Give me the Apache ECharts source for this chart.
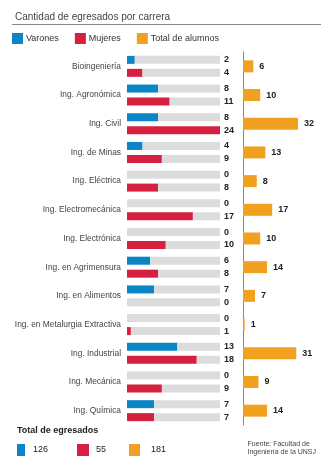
<!DOCTYPE html>
<html>
<head>
<meta charset="utf-8">
<script src="https://cdn.jsdelivr.net/npm/echarts@6/dist/echarts.min.js"></script>
<style>
html,body{margin:0;padding:0;background:#fff;}
#c{width:327px;height:468px;}
</style>
</head>
<body>
<div id="c"></div>
<script>
const categories = ['Bioingeniería','Ing. Agronómica','Ing. Civil','Ing. de Minas','Ing. Eléctrica','Ing. Electromecánica','Ing. Electrónica','Ing. en Agrimensura','Ing. en Alimentos','Ing. en Metalurgia Extractiva','Ing. Industrial','Ing. Mecánica','Ing. Química'];
const varones = [2,8,8,4,0,0,0,6,7,0,13,0,7];
const mujeres = [4,11,24,9,8,17,10,8,0,1,18,9,7];
const totales = [6,10,32,13,8,17,10,14,7,1,31,9,14];
const seriesNames = ['Varones','Mujeres','Total de alumnos'];
const totalTitle = 'Total de egresados';
const totalValues = ['126','55','181'];
const sourceLines = ['Fuente: Facultad de','Ingeniería de la UNSJ'];
const scaleMax = 24;
const totalMax = 32;

const FONT = "'Liberation Sans', Arial, sans-serif";
const BLUE = '#0a86c6', RED = '#d5213f', ORANGE = '#f0a11f', GRAY = '#dcdcdc';

const chart = echarts.init(document.getElementById('c'), null, {renderer:'canvas'});
const valLabel = (arr) => ({
  show: true, position: 'right', distance: 4,
  formatter: p => String(arr[p.dataIndex]),
  color: '#222', fontWeight: 'bold', fontSize: 9, fontFamily: FONT
});
chart.setOption({
  animation: false,
  title: {
    text: 'Cantidad de egresados por carrera', left: 10, top: 7,
    textStyle: {fontSize: 10, fontWeight: 'normal', color: '#444', fontFamily: FONT}
  },
  legend: {
    data: seriesNames, left: 12, top: 33, padding: 0, itemWidth: 11, itemHeight: 11, itemGap: 16,
    icon: 'rect', selectedMode: false,
    textStyle: {fontSize: 9, color: '#333', fontFamily: FONT, padding: [0,0,0,-2]}
  },
  grid: [
    {left: 127, width: 93, top: 52, height: 373},
    {left: 243, width: 55, top: 52, height: 373}
  ],
  xAxis: [
    {gridIndex: 0, type: 'value', min: 0, max: scaleMax, show: false},
    {gridIndex: 1, type: 'value', min: 0, max: totalMax, show: false}
  ],
  yAxis: [
    {gridIndex: 0, type: 'category', data: categories, inverse: true,
     axisLine: {show: false}, axisTick: {show: false},
     axisLabel: {fontSize: 8.4, color: '#444', fontFamily: FONT, margin: 6}},
    {gridIndex: 1, type: 'category', data: categories, inverse: true,
     axisLine: {show: true, lineStyle: {color: '#888', width: 1}}, axisTick: {show: false},
     axisLabel: {show: false}}
  ],
  series: [
    {name: 'Varones', type: 'bar', stack: 'v', xAxisIndex: 0, yAxisIndex: 0, data: varones,
     itemStyle: {color: BLUE}, barWidth: 8, barGap: '62%', silent: true},
    {name: 'restV', type: 'bar', stack: 'v', xAxisIndex: 0, yAxisIndex: 0,
     data: varones.map(v => scaleMax - v), itemStyle: {color: GRAY}, barWidth: 8, barGap: '62%',
     label: valLabel(varones), silent: true},
    {name: 'Mujeres', type: 'bar', stack: 'm', xAxisIndex: 0, yAxisIndex: 0, data: mujeres,
     itemStyle: {color: RED}, barWidth: 8, barGap: '62%', silent: true},
    {name: 'restM', type: 'bar', stack: 'm', xAxisIndex: 0, yAxisIndex: 0,
     data: mujeres.map(v => scaleMax - v), itemStyle: {color: GRAY}, barWidth: 8, barGap: '62%',
     label: valLabel(mujeres), silent: true},
    {name: 'Total de alumnos', type: 'bar', xAxisIndex: 1, yAxisIndex: 1, data: totales,
     itemStyle: {color: ORANGE}, barWidth: 12, silent: true,
     label: {show: true, position: 'right', distance: 6, color: '#222', fontWeight: 'bold', fontSize: 9, fontFamily: FONT}}
  ],
  graphic: [
    {type: 'line', shape: {x1: 12, y1: 24.5, x2: 321, y2: 24.5}, style: {stroke: '#888', lineWidth: 1}},
    {type: 'text', left: 17, top: 426, style: {text: totalTitle, fontSize: 9, fontWeight: 'bold', fill: '#222', fontFamily: FONT}},
    {type: 'rect', shape: {x: 17, y: 444, width: 8, height: 12}, style: {fill: BLUE}},
    {type: 'text', left: 33, top: 445, style: {text: totalValues[0], fontSize: 9, fill: '#222', fontFamily: FONT}},
    {type: 'rect', shape: {x: 77, y: 444, width: 12, height: 12}, style: {fill: RED}},
    {type: 'text', left: 96, top: 445, style: {text: totalValues[1], fontSize: 9, fill: '#222', fontFamily: FONT}},
    {type: 'rect', shape: {x: 129, y: 444, width: 11, height: 12}, style: {fill: ORANGE}},
    {type: 'text', left: 151, top: 445, style: {text: totalValues[2], fontSize: 9, fill: '#222', fontFamily: FONT}},
    {type: 'text', right: 11, top: 440, style: {text: sourceLines.join('\n'), fontSize: 7, lineHeight: 8, fill: '#444', align: 'right', fontFamily: FONT}}
  ]
});
</script>
</body>
</html>
